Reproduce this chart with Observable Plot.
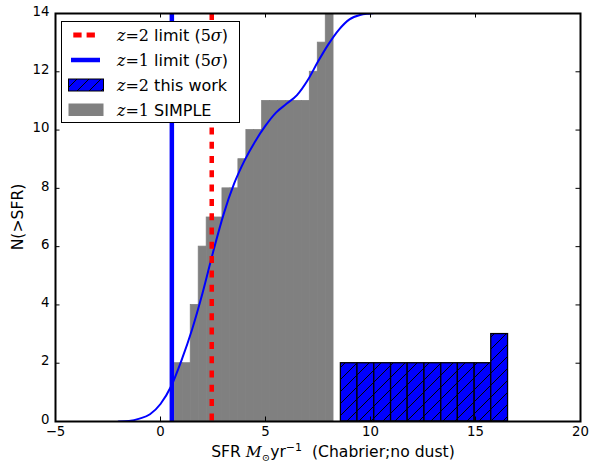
<!DOCTYPE html>
<html><head><meta charset="utf-8">
<script src="https://cdn.jsdelivr.net/npm/d3@7"></script>
<script src="https://cdn.jsdelivr.net/npm/@observablehq/plot@0.6"></script>
<style>body{margin:0;background:#fff} #chart{width:592px;height:462px}</style>
</head><body><div id="chart"></div>
<script>
// z=1 SIMPLE histogram (bin edges and counts)
const simpleEdges = [0.68, 1.06, 1.44, 1.82, 2.20, 2.57, 2.95, 3.33, 3.71, 4.09, 4.46, 4.84, 5.22, 5.60, 5.98, 6.35, 6.73, 7.11, 7.49, 7.87, 8.24];
const simpleCounts = [2, 2, 4, 6, 7, 7, 8, 8, 9, 10, 10, 11, 11, 11, 11, 11, 11, 12, 13, 14];
// z=2 this work histogram
const thisWorkEdges = [8.59, 9.38, 10.18, 10.98, 11.77, 12.57, 13.37, 14.16, 14.96, 15.75, 16.55];
const thisWorkCounts = [2, 2, 2, 2, 2, 2, 2, 2, 2, 3];
// smooth curve
const curveSFR = [-2.0, -1.5, -1.0, -0.5, 0.0, 0.5, 1.0, 1.5, 2.0, 2.5, 3.0, 3.5, 4.0, 4.5, 5.0, 5.5, 6.0, 6.5, 7.0, 7.5, 8.0, 8.5, 9.0, 9.5, 10.0, 10.5];
const curveN = [0, 0.02, 0.1, 0.25, 0.6, 1.2, 2.1, 3.15, 4.4, 5.8, 7.1, 8.15, 8.95, 9.6, 10.15, 10.6, 10.9, 11.2, 11.7, 12.35, 12.95, 13.45, 13.8, 13.95, 14.0, 14.05];
// 5-sigma limits
const z1Limit = [0.54];
const z2Limit = [2.44];
// ticks
const xTicks = [-5, 0, 5, 10, 15, 20];
const xTickLabels = ["\u22125", "0", "5", "10", "15", "20"];
const yTicks = [0, 2, 4, 6, 8, 10, 12, 14];
const yTickLabels = ["0", "2", "4", "6", "8", "10", "12", "14"];

const W = 592, H = 462, mL = 55, mR = 12, mT = 13, mB = 41;
const pW = W - mL - mR, pH = H - mT - mB;

const simple = simpleCounts.map((n, i) => ({x1: simpleEdges[i], x2: simpleEdges[i + 1], n}));
const thisWork = thisWorkCounts.map((n, i) => ({x1: thisWorkEdges[i], x2: thisWorkEdges[i + 1], n}));
const curve = curveSFR.map((x, i) => ({x, y: curveN[i]}));

const svg = Plot.plot({
  width: W, height: H,
  marginLeft: mL, marginRight: mR, marginTop: mT, marginBottom: mB,
  style: {fontFamily: "DejaVu Sans", fontSize: "13.3px", background: "white"},
  x: {domain: [-5, 20], axis: null},
  y: {domain: [0, 14], axis: null},
  marks: [
    Plot.rect(simple, {x1: "x1", x2: "x2", y1: d => 0, y2: "n", fill: "#808080", stroke: "#808080", strokeWidth: 0.8, clip: true}),
    Plot.rect(thisWork, {x1: "x1", x2: "x2", y1: d => 0, y2: "n", fill: "url(#hatch)", stroke: "black", strokeWidth: 1.3}),
    Plot.line(curve, {x: "x", y: "y", stroke: "#0000ff", strokeWidth: 2, curve: "monotone-x", clip: true}),
    Plot.ruleX(z1Limit, {x: d => d, stroke: "#0000ff", strokeWidth: 4.5}),
    Plot.ruleX(z2Limit, {x: d => d, stroke: "#ff0000", strokeWidth: 4.5, strokeDasharray: "7,7.3"}),
    Plot.ruleX(xTicks, {x: d => d, insetTop: pH - 4.5, stroke: "black"}),
    Plot.ruleX(xTicks, {x: d => d, insetBottom: pH - 4.5, stroke: "black"}),
    Plot.ruleY(yTicks, {y: d => d, insetRight: pW - 4.5, stroke: "black"}),
    Plot.ruleY(yTicks, {y: d => d, insetLeft: pW - 4.5, stroke: "black"}),
    Plot.axisX({ticks: xTicks, tickSize: 0, tickPadding: 5, tickFormat: d => xTickLabels[xTicks.indexOf(d)], label: null, fontSize: 13.3, fill: "black"}),
    Plot.axisY({ticks: yTicks, tickSize: 0, tickPadding: 6, dy: -2, tickFormat: d => yTickLabels[yTicks.indexOf(d)], label: null, fontSize: 13.3, fill: "black"}),
    Plot.frame({stroke: "black", strokeWidth: 2})
  ]
});

const s = d3.select(svg);
const defs = s.insert("defs", ":first-child");
const pat = defs.append("pattern").attr("id", "hatch").attr("patternUnits", "userSpaceOnUse")
  .attr("width", 12).attr("height", 12);
pat.append("rect").attr("width", 12).attr("height", 12).attr("fill", "#0000ff");
pat.append("path").attr("d", "M0,12L12,0M-3,3L3,-3M9,15L15,9").attr("stroke", "black").attr("stroke-width", 1);

// axis labels
const serif = "DejaVu Serif";
const xl = s.append("text").attr("x", 333).attr("y", 457).attr("text-anchor", "middle")
  .attr("font-family", "DejaVu Sans").attr("font-size", 15.6).attr("fill", "black").style("white-space", "pre");
xl.append("tspan").text("SFR ");
xl.append("tspan").attr("font-family", serif).attr("font-style", "italic").text("M");
xl.append("tspan").attr("font-family", serif).attr("font-size", 10).attr("dy", 4).text("\u2299");
xl.append("tspan").attr("dy", -4).text("yr");
xl.append("tspan").attr("font-size", 11).attr("dy", -6).text("\u22121");
xl.append("tspan").attr("dy", 6).text("  (Chabrier;no dust)");

s.append("text").attr("transform", `translate(18,${mT + pH / 2}) rotate(-90)`).attr("text-anchor", "middle")
  .attr("dominant-baseline", "central").attr("font-family", "DejaVu Sans").attr("font-size", 15.6).attr("fill", "black")
  .text("N(>SFR)");

// legend
const lg = s.append("g");
lg.append("rect").attr("x", 61.5).attr("y", 21.5).attr("width", 178).attr("height", 101)
  .attr("fill", "white").attr("stroke", "black").attr("stroke-width", 1);
const rows = [35, 60, 85, 109.5];
lg.append("line").attr("x1", 73.3).attr("x2", 95).attr("y1", rows[0]).attr("y2", rows[0])
  .attr("stroke", "#ff0000").attr("stroke-width", 5).attr("stroke-dasharray", "8.3,5");
lg.append("line").attr("x1", 71).attr("x2", 100).attr("y1", rows[1]).attr("y2", rows[1])
  .attr("stroke", "#0000ff").attr("stroke-width", 4.5);
lg.append("rect").attr("x", 68.5).attr("y", rows[2] - 6).attr("width", 35).attr("height", 12)
  .attr("fill", "url(#hatch)").attr("stroke", "black").attr("stroke-width", 1);
lg.append("rect").attr("x", 68.5).attr("y", rows[3] - 6).attr("width", 35).attr("height", 12.5)
  .attr("fill", "#808080");
const labels = [
  [["z", "i"], ["=2", "s"], [" limit (", ""], ["5", "s"], ["\u03c3", "i"], [")", ""]],
  [["z", "i"], ["=1", "s"], [" limit (", ""], ["5", "s"], ["\u03c3", "i"], [")", ""]],
  [["z", "i"], ["=2", "s"], [" this work", ""]],
  [["z", "i"], ["=1", "s"], [" SIMPLE", ""]]
];
labels.forEach((parts, r) => {
  const t = lg.append("text").attr("x", 117).attr("y", rows[r]).attr("dominant-baseline", "central")
    .attr("text-anchor", "start")
    .attr("font-family", "DejaVu Sans").attr("font-size", 16).attr("fill", "black").style("white-space", "pre");
  parts.forEach(([txt, st]) => {
    const ts = t.append("tspan").text(txt);
    if (st === "i") ts.attr("font-family", serif).attr("font-style", "italic");
    if (st === "s") ts.attr("font-family", serif);
  });
});

document.getElementById("chart").appendChild(svg);
</script>
</body></html>
